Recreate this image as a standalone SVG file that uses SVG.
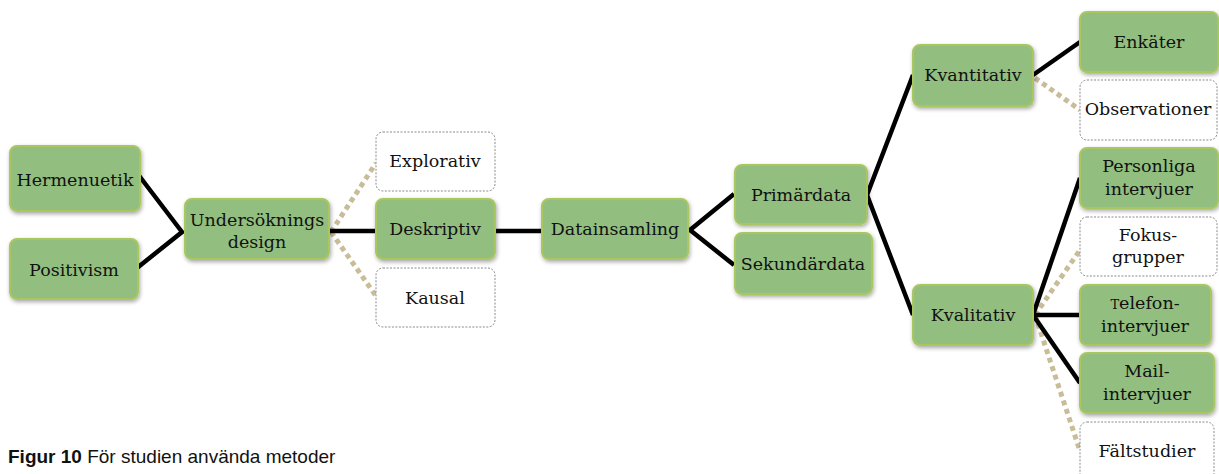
<svg xmlns="http://www.w3.org/2000/svg" width="1219" height="474" viewBox="0 0 1219 474">
<defs>
<filter id="sh" x="-10%" y="-10%" width="130%" height="140%">
<feGaussianBlur in="SourceAlpha" stdDeviation="2"/>
<feOffset dx="1" dy="2" result="b"/>
<feComponentTransfer><feFuncA type="linear" slope="0.35"/></feComponentTransfer>
<feMerge><feMergeNode/><feMergeNode in="SourceGraphic"/></feMerge>
</filter>
</defs>
<style>
.g{fill:#92bf7f;stroke:#a9c65e;stroke-width:2;filter:url(#sh)}
.w{fill:#fff;stroke:#8a8a8a;stroke-width:1;stroke-dasharray:2 1.5}
.t{font-family:"DejaVu Serif","Liberation Serif",serif;font-size:17.5px;fill:#111;text-anchor:middle}
.s{fill:none;stroke:#000;stroke-width:4.5;stroke-linejoin:miter}
.d{fill:none;stroke:#c8bd98;stroke-width:5;stroke-dasharray:5 4}
.cap{font-family:"Liberation Sans",Arial,sans-serif;font-size:19px;fill:#111}
</style>
<g id="connectors">
<polyline class="s" points="137,173 182,232 137,268"/>
<line class="d" x1="331" y1="232" x2="376" y2="163"/>
<line class="d" x1="331" y1="232" x2="376" y2="296"/>
<line class="s" x1="329" y1="231" x2="376" y2="231"/>
<line class="s" x1="495" y1="231" x2="542" y2="231"/>
<polyline class="s" points="734,194 690,230 734,265"/>
<polyline class="s" points="913,75 867,195 913,315"/>
<line class="s" x1="1033" y1="75" x2="1080" y2="42"/>
<line class="d" x1="1035" y1="78" x2="1080" y2="110"/>
<line class="d" x1="1035" y1="315" x2="1080" y2="250"/>
<line class="d" x1="1035" y1="315" x2="1080" y2="451"/>
<line class="s" x1="1033" y1="315" x2="1080" y2="178"/>
<line class="s" x1="1033" y1="315" x2="1080" y2="315"/>
<line class="s" x1="1033" y1="315" x2="1080" y2="383"/>
</g>
<g id="hermenuetik"><rect class="g" x="10" y="146" width="130" height="65" rx="7"/><text class="t" x="75" y="186">Hermenuetik</text></g>
<g id="positivism"><rect class="g" x="10" y="239" width="128" height="60" rx="7"/><text class="t" x="74" y="276">Positivism</text></g>
<g id="undersokningsdesign"><rect class="g" x="185" y="199" width="144" height="60" rx="7"/><text class="t" x="257" y="226">Undersöknings</text><text class="t" x="257" y="248">design</text></g>
<g id="explorativ"><rect class="w" x="376" y="132" width="119" height="59" rx="7"/><text class="t" x="435" y="167">Explorativ</text></g>
<g id="deskriptiv"><rect class="g" x="376" y="199" width="119" height="60" rx="7"/><text class="t" x="435" y="235">Deskriptiv</text></g>
<g id="kausal"><rect class="w" x="376" y="268" width="119" height="59" rx="7"/><text class="t" x="435" y="304">Kausal</text></g>
<g id="datainsamling"><rect class="g" x="542" y="199" width="146" height="60" rx="7"/><text class="t" x="615" y="235">Datainsamling</text></g>
<g id="primardata"><rect class="g" x="735" y="165" width="132" height="59" rx="7"/><text class="t" x="801" y="201">Primärdata</text></g>
<g id="sekundardata"><rect class="g" x="735" y="233" width="137" height="61" rx="7"/><text class="t" x="803" y="270">Sekundärdata</text></g>
<g id="kvantitativ"><rect class="g" x="913" y="45" width="120" height="61" rx="7"/><text class="t" x="973" y="81">Kvantitativ</text></g>
<g id="kvalitativ"><rect class="g" x="913" y="285" width="120" height="60" rx="7"/><text class="t" x="973" y="321">Kvalitativ</text></g>
<g id="enkater"><rect class="g" x="1080" y="12" width="138" height="60" rx="7"/><text class="t" x="1149" y="48">Enkäter</text></g>
<g id="observationer"><rect class="w" x="1080" y="80" width="137" height="60" rx="7"/><text class="t" x="1148" y="115">Observationer</text></g>
<g id="personliga"><rect class="g" x="1080" y="148" width="138" height="60" rx="7"/><text class="t" x="1149" y="172">Personliga</text><text class="t" x="1149" y="195">intervjuer</text></g>
<g id="fokusgrupper"><rect class="w" x="1080" y="217" width="137" height="59" rx="7"/><text class="t" x="1148" y="241">Fokus-</text><text class="t" x="1148" y="263">grupper</text></g>
<g id="telefonintervjuer"><rect class="g" x="1080" y="285" width="131" height="60" rx="7"/><text class="t" x="1145" y="309"><tspan font-size="13">T</tspan>elefon-</text><text class="t" x="1145" y="332">intervjuer</text></g>
<g id="mailintervjuer"><rect class="g" x="1080" y="353" width="134" height="60" rx="7"/><text class="t" x="1147" y="377">Mail-</text><text class="t" x="1147" y="400">intervjuer</text></g>
<g id="faltstudier"><rect class="w" x="1080" y="422" width="134" height="60" rx="7"/><text class="t" x="1147" y="457">Fältstudier</text></g>
<text class="cap" x="8" y="463"><tspan font-weight="bold">Figur 10</tspan> För studien använda metoder</text>
</svg>
